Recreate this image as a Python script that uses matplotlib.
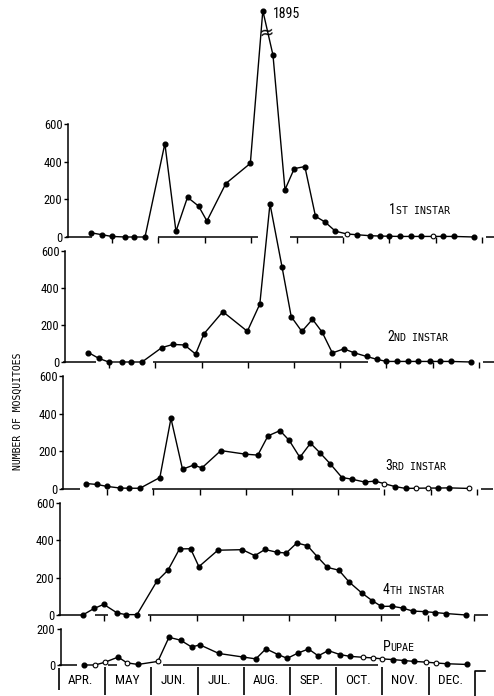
import numpy as np
import matplotlib
matplotlib.use('Agg')
import matplotlib.pyplot as plt
from matplotlib import font_manager as fm

W, H = 494, 696
MW = 46.2	# pixels per month on the scan


def pick_font(cands):
	for c in cands:
		try:
			fm.findfont(fm.FontProperties(family=c), fallback_to_default=False)
			return c
		except ValueError:
			continue
	return 'DejaVu Sans'


NARROW = pick_font(['Liberation Sans Narrow', 'DejaVu Sans Condensed',
					'Noto Sans Condensed', 'Roboto Condensed', 'Open Sans Condensed'])
MONO = 'DejaVu Sans Mono'

# sampling dates, in months after 1 April
sample_month = [0.55, 0.78, 0.99, 1.28, 1.47, 1.71, 2.14, 2.38, 2.63, 2.87, 3.05,
				3.46, 3.99, 4.26, 4.48, 4.74, 4.94, 5.17, 5.40, 5.61, 5.83, 6.08,
				6.30, 6.57, 6.80, 7.00, 7.23, 7.46, 7.68, 7.94, 8.17, 8.39, 8.83]

first_instar = [22, 12, 3, 0, 0, 0, 496, 30, 211, 164, 85, 284, 391, 1895, 966, 251,
				363, 374, 110, 79, 31, 16, 12, 7, 5, 4, 3, 3, 3, 3, 3, 3, 0]
second_instar = [51, 19, 0, 0, 0, 0, 78, 95, 92, 43, 152, 272, 166, 313, 855, 515,
				 245, 165, 231, 161, 49, 71, 50, 30, 14, 3, 3, 3, 3, 3, 3, 3, 0]
third_instar = [29, 24, 14, 5, 4, 4, 61, 375, 105, 127, 112, 204, 185, 180, 282, 310,
				258, 168, 243, 191, 133, 61, 52, 37, 42, 28, 13, 3, 4, 5, 5, 6, 3]
fourth_instar = [2, 35, 57, 11, 2, 2, 181, 240, 354, 355, 259, 347, 350, 318, 351, 336,
				 332, 386, 371, 313, 255, 240, 177, 119, 77, 46, 47, 37, 21, 18, 13, 8, 0]
pupae = [0, 0, 15, 44, 12, 3, 20, 154, 138, 100, 112, 64, 44, 34, 90, 58, 37, 66,
		 89, 51, 80, 58, 48, 43, 39, 34, 30, 25, 20, 16, 11, 7, 3]

# samples drawn as open circles
first_open = [21, 29]
second_open = []
third_open = [25, 28, 29, 32]
fourth_open = []
pupae_open = [1, 2, 4, 6, 23, 24, 25, 29, 30]

stage_big = ['1', '2', '3', '4', 'P']
stage_small = ['ST INSTAR', 'ND INSTAR', 'RD INSTAR', 'TH INSTAR', 'UPAE']
month_labels = ['APR.', 'MAY', 'JUN.', 'JUL.', 'AUG.', 'SEP.', 'OCT.', 'NOV.', 'DEC.']
larva_ticks = [0, 200, 400, 600]
pupae_ticks = [0, 200]
peak_label = '1895'


def fx(x):
	return x / W


def fy(y):
	return 1 - y / H


def brk_fwd(v):
	v = np.asarray(v, float)
	return np.where(v <= 1050, v, 1050 + (v - 1050) * 0.18)


def brk_inv(d):
	d = np.asarray(d, float)
	return np.where(d <= 1050, d, 1050 + (d - 1050) / 0.18)


def make_panel(fig, apr1, y0, ytop, vtop, ticks, broken=False):
	x0 = 2 / MW
	ax = fig.add_axes([fx(apr1 + 2), fy(y0), 9.4 * MW / W, (y0 - ytop) / H])
	if broken:
		ax.set_yscale('function', functions=(brk_fwd, brk_inv))
	ax.set_xlim(x0, x0 + 9.4)
	ax.set_ylim(0, vtop)
	ax.patch.set_alpha(0)
	for s in ['top', 'right', 'bottom']:
		ax.spines[s].set_visible(False)
	ax.spines['left'].set_linewidth(1.1)
	ax.set_yticks(ticks)
	ax.set_yticklabels([str(t) for t in ticks], family=NARROW, fontsize=9)
	ax.yaxis.set_minor_locator(plt.NullLocator())
	ax.tick_params(axis='y', direction='out', length=3, width=1, pad=1)
	ax.set_xticks(range(1, 10))
	ax.tick_params(axis='x', direction='out', length=4, width=1, labelbottom=False)
	return ax


def draw_series(ax, vals, hollow):
	m = np.array(sample_month)
	v = np.array(vals, float)
	shut = np.array([i not in hollow for i in range(len(v))])
	ax.plot(m, v, '-', color='k', lw=1.0, clip_on=False, zorder=3)
	ax.plot(m[shut], v[shut], 'o', ms=3.4, mfc='k', mec='k', clip_on=False, zorder=4)
	ax.plot(m[~shut], v[~shut], 'o', ms=3.4, mfc='white', mec='k', mew=0.8,
			clip_on=False, zorder=4)


def draw_base(ax, segs):
	for a, b in segs:
		ax.plot([a, b], [0, 0], color='k', lw=1.1, clip_on=False, solid_capstyle='butt')


def smallcaps(fig, x, y, big, rest):
	fig.text(fx(x), fy(y), big, family=NARROW, fontsize=10, va='baseline')
	fig.text(fx(x + 7), fy(y), rest, family=MONO, fontsize=7.2, va='baseline')


def plot():
	fig = plt.figure(figsize=(W / 100, H / 100), dpi=100)

	# apr1 px, zero px, top px, top value, ticks, values, open markers, baseline pieces, label pos
	layout = [
		(66, 237, 124, 600, larva_ticks, first_instar, first_open,
		 [(0.0, 0.57), (2.0, 4.15), (4.85, 6.0), (9.1, 9.35)], (389, 214)),
		(63, 362, 251, 600, larva_ticks, second_instar, second_open,
		 [(0.0, 0.72), (1.95, 6.6), (9.1, 9.35)], (387, 341)),
		(61, 489, 376, 600, larva_ticks, third_instar, third_open,
		 [(0.0, 0.42), (1.97, 6.9), (9.1, 9.35)], (385, 470)),
		(58, 615, 503, 600, larva_ticks, fourth_instar, fourth_open,
		 [(0.0, 0.52), (0.8, 1.08), (1.95, 7.4), (9.0, 9.3)], (383, 594)),
		(59, 665, 629, 200, pupae_ticks, pupae, pupae_open,
		 [(0.0, 0.4), (1.06, 1.26), (2.25, 6.9)], (383, 651)),
	]

	for k, (apr1, y0, ytop, vtop, ticks, vals, hollow, segs, lab) in enumerate(layout):
		ax = make_panel(fig, apr1, y0, ytop, vtop, ticks, broken=(k == 0))
		if k == 4:
			ax.set_xticks([])
		draw_base(ax, segs)
		draw_series(ax, vals, hollow)
		smallcaps(fig, lab[0], lab[1], stage_big[k], stage_small[k])

	# break mark and value of the off-scale peak
	fig.text(fx(266), fy(33), '\u2248', fontsize=13, ha='center', va='center', rotation=8)
	fig.text(fx(273), fy(14), peak_label, family=NARROW, fontsize=10,
			 ha='left', va='center')

	# month strip under the pupae panel
	x0 = 2 / MW
	bx = fig.add_axes([fx(61), 0, 9.4 * MW / W, 31 / H])
	bx.set_xlim(x0, x0 + 9.4)
	bx.set_ylim(0, 31)
	bx.axis('off')
	bx.vlines(range(1, 9), 1, 29, color='k', lw=1.2)
	bx.vlines(0, 6, 28, color='k', lw=1.2, clip_on=False)
	bx.plot([9.0, 9.0, 9.22], [0, 25, 25], color='k', lw=1.2, clip_on=False)
	for i, lab in enumerate(month_labels):
		bx.text(i + 0.47, 16, lab, family=NARROW, fontsize=9.5, ha='center', va='center')

	fig.text(fx(18), fy(411), 'NUMBER OF MOSQUITOES', family=MONO, fontsize=7,
			 rotation=90, ha='center', va='center')

	fig.savefig('out.png', dpi=100)


if __name__ == "__main__":
	plot()
